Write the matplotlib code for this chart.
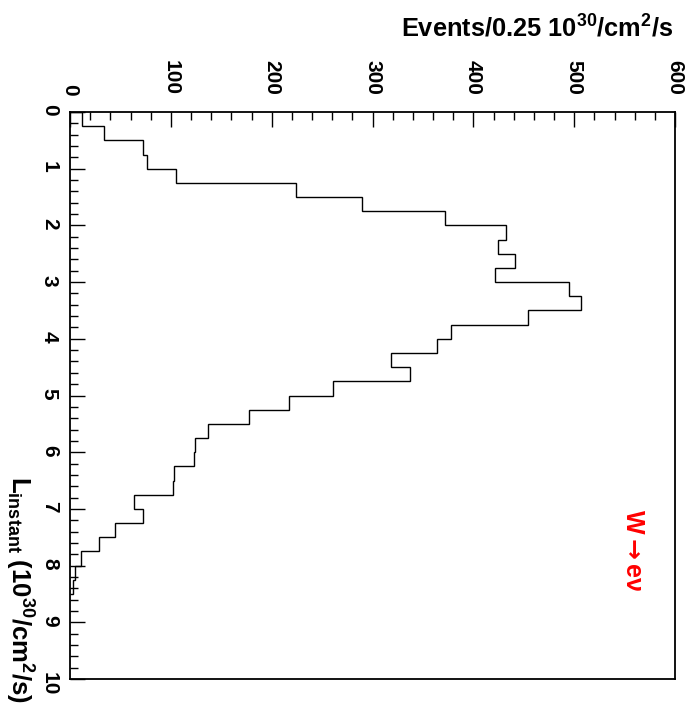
import numpy as np
import matplotlib
matplotlib.use("Agg")
import matplotlib.pyplot as plt
from matplotlib.ticker import MultipleLocator

plt.rcParams['font.family'] = ['Liberation Sans', 'DejaVu Sans']
plt.rcParams['font.weight'] = 'bold'
plt.rcParams['mathtext.fontset'] = 'custom'
plt.rcParams['mathtext.rm'] = 'Liberation Sans:bold'
plt.rcParams['mathtext.it'] = 'Liberation Sans:bold'
plt.rcParams['mathtext.bf'] = 'Liberation Sans:bold'
plt.rcParams['mathtext.sf'] = 'DejaVu Sans'

# instantaneous luminosity bins (10^30/cm^2/s), width 0.25
lumi_edges = np.arange(0, 8.5 + 0.001, 0.25)
events = [12, 34, 72, 76, 105, 224, 290, 372, 432, 424, 441, 421,
          495, 507, 454, 378, 364, 318, 337, 261, 217, 178, 137, 124,
          123, 103, 102, 63, 72, 45, 29, 11, 5, 3]

fig = plt.figure(figsize=(6.91, 7.12), dpi=100)
ax = fig.add_axes([70/691, 1-679/712, 605/691, 567/712])

# histogram drawn sideways: luminosity runs down, events across
ax.stairs(events, lumi_edges, orientation='horizontal', baseline=0,
          color='black', linewidth=1.0)

ax.set_xlim(0, 600)
ax.set_ylim(10, 0)
ax.xaxis.set_major_locator(MultipleLocator(100))
ax.xaxis.set_minor_locator(MultipleLocator(20))
ax.yaxis.set_major_locator(MultipleLocator(1))
ax.yaxis.set_minor_locator(MultipleLocator(0.2))
ax.xaxis.tick_top()
ax.tick_params(axis='both', which='both', direction='in', width=1,
               top=True, bottom=False, left=True, right=False,
               labelsize=15)
ax.tick_params(which='major', length=11)
ax.tick_params(which='minor', length=6)
ax.tick_params(axis='x', pad=12)
ax.tick_params(axis='y', pad=8)
for lab in ax.get_xticklabels() + ax.get_yticklabels():
    lab.set_rotation(-90)
    lab.set_fontweight('bold')
for sp in ax.spines.values():
    sp.set_linewidth(1.3)

fig.text(673/691, 1-28/712, r'Events/0.25 10$^{30}$/cm$^{2}$/s',
         ha='right', va='center', fontsize=18.3, fontweight='bold')
fig.text(19/691, 1-703/712,
         r'L$_{instant}$ (10$^{30}$/cm$^{2}$/s)',
         rotation=-90, ha='center', va='bottom', fontsize=18.5,
         fontweight='bold')
fig.text(633/691, 1-550/712, r'W$\mathsf{\rightarrow}$e$\nu$', color='red',
         rotation=-90, ha='center', va='center', fontsize=18,
         fontweight='bold')

fig.savefig('out.png', dpi=100)
